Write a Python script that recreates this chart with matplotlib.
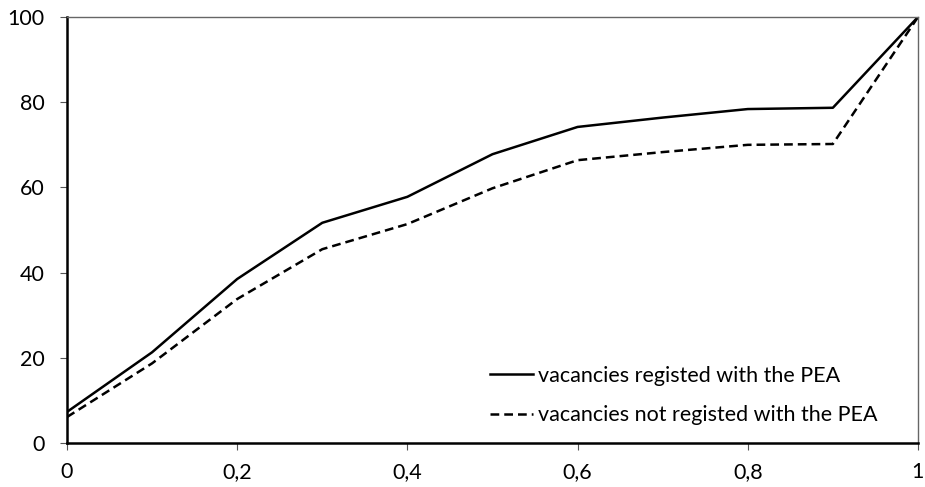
import matplotlib
matplotlib.use("Agg")
from matplotlib import pyplot as plt
from matplotlib.ticker import FuncFormatter

x = [0, 0.1, 0.2, 0.3, 0.4, 0.5, 0.6, 0.7, 0.8, 0.9, 1.0]
registered = [7.3, 21.3, 38.5, 51.7, 57.8, 67.8, 74.2, 76.4, 78.4, 78.7, 100]
not_registered = [6.1, 18.7, 33.8, 45.5, 51.4, 59.8, 66.4, 68.3, 70.0, 70.2, 100]
labels = ["vacancies registed with the PEA", "vacancies not registed with the PEA"]

plt.rcParams["font.family"] = ["Lato", "DejaVu Sans"]

fig = plt.figure(figsize=(9.25, 4.87), dpi=100)
ax = fig.add_axes([0.0724, 0.0903, 0.92, 0.8747])

ax.plot(x, registered, color="black", lw=1.8, label=labels[0])
ax.plot(x, not_registered, color="black", lw=1.8, ls=(0, (3.5, 2)), label=labels[1])

ax.set_xlim(0, 1)
ax.set_ylim(0, 100)
ax.set_xticks([0, 0.2, 0.4, 0.6, 0.8, 1])
ax.set_yticks([0, 20, 40, 60, 80, 100])
ax.xaxis.set_major_formatter(FuncFormatter(lambda v, p: ("%g" % round(v, 1)).replace(".", ",")))

for s in ["left", "bottom"]:
    ax.spines[s].set_linewidth(1.8)
    ax.spines[s].set_color("black")
for s in ["top", "right"]:
    ax.spines[s].set_linewidth(1.0)
    ax.spines[s].set_color("#666666")

ax.tick_params(axis="both", labelsize=15.5, length=5, width=0.8, color="#555555")
ax.tick_params(axis="x", pad=9)
ax.tick_params(axis="y", pad=11)

leg = ax.legend(loc="lower left", bbox_to_anchor=(0.474, -0.004), frameon=False,
                fontsize=15.5, handlelength=2.0, handletextpad=0.25, labelspacing=0.9)

fig.savefig("out.png", dpi=100)
